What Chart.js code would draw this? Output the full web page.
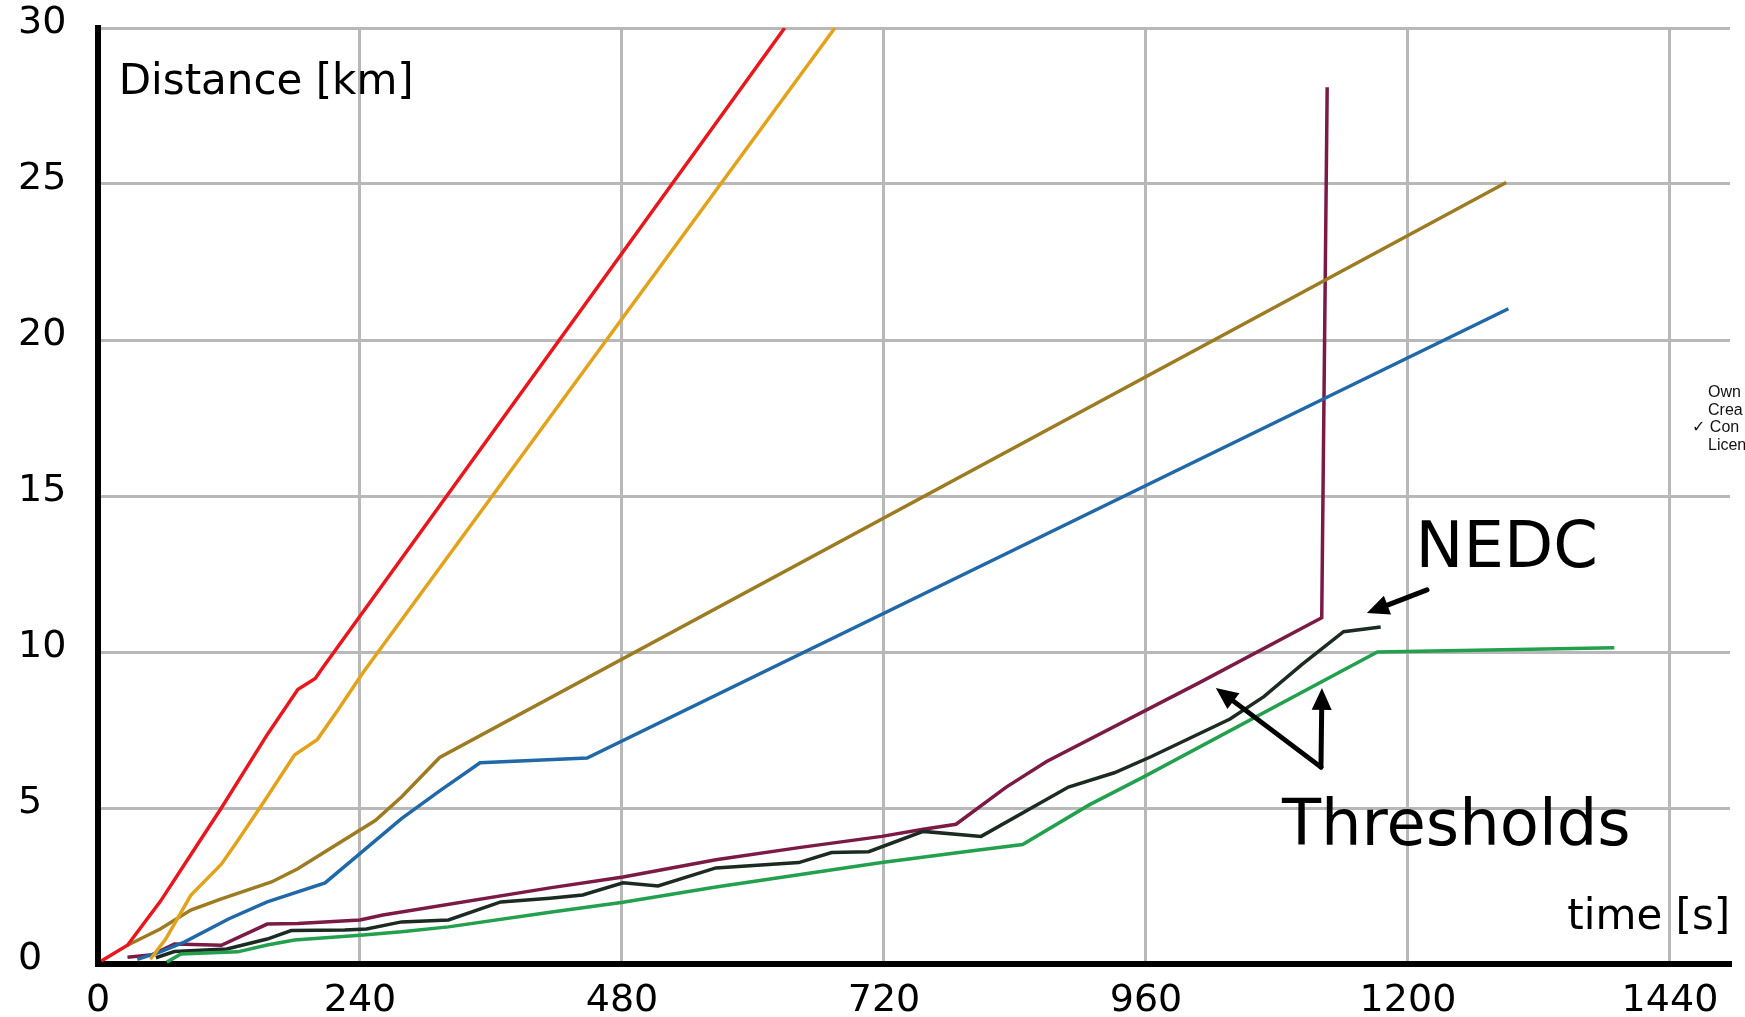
<!DOCTYPE html>
<html>
<head>
<meta charset="utf-8">
<script src="https://cdn.jsdelivr.net/npm/chart.js@4.4.1/dist/chart.umd.min.js"></script>
<style>
    html, body { margin: 0; padding: 0; background: #fff; }
    #wrap { width: 1745px; height: 1017px; }
</style>
</head>
<body>
<div id="wrap"><canvas id="distChart" width="1745" height="1017"></canvas></div>
<script>
// time [s] and distance [km]
const redTime = [3, 27, 57, 85, 113, 155, 183, 199, 206, 629];
const redKm = [0.1, 0.6, 2.0, 3.5, 5.0, 7.35, 8.8, 9.15, 9.5, 30];

const orangeTime = [48, 62, 85, 113, 127, 152, 180, 201, 219, 243, 675];
const orangeKm = [0.15, 0.8, 2.2, 3.2, 3.9, 5.2, 6.7, 7.2, 8.1, 9.35, 30];

const brownTime = [27, 57, 85, 113, 159, 183, 208, 254, 278, 313, 1290];
const brownKm = [0.6, 1.12, 1.73, 2.09, 2.63, 3.05, 3.6, 4.6, 5.35, 6.62, 25.05];

const blueTime = [36, 57, 79, 120, 155, 208, 244, 278, 313, 350, 448, 1292];
const blueKm = [0.15, 0.39, 0.7, 1.45, 1.99, 2.6, 3.66, 4.66, 5.55, 6.45, 6.6, 21.0];

const maroonTime = [27, 50, 70, 113, 155, 183, 240, 261, 414, 481, 566, 642, 718, 756, 786, 832, 869, 1009, 1121, 1126];
const maroonKm = [0.22, 0.3, 0.64, 0.6, 1.28, 1.3, 1.41, 1.57, 2.44, 2.79, 3.34, 3.73, 4.09, 4.32, 4.48, 5.67, 6.49, 9.02, 11.1, 28.1];

// NEDC
const nedcTime = [53, 70, 118, 155, 177, 226, 246, 278, 321, 369, 414, 444, 481, 513, 566, 642, 672, 706, 756, 809, 889, 931, 965, 1037, 1068, 1103, 1141, 1175];
const nedcKm = [0.2, 0.4, 0.48, 0.8, 1.07, 1.09, 1.12, 1.35, 1.41, 1.99, 2.11, 2.21, 2.6, 2.5, 3.08, 3.25, 3.57, 3.6, 4.25, 4.09, 5.67, 6.13, 6.65, 7.85, 8.57, 9.6, 10.65, 10.8];

const greenTime = [63, 76, 128, 155, 180, 243, 278, 321, 414, 481, 566, 718, 794, 847, 908, 957, 1172, 1389];
const greenKm = [0.06, 0.32, 0.39, 0.61, 0.77, 0.93, 1.03, 1.19, 1.66, 1.98, 2.47, 3.25, 3.6, 3.83, 5.1, 5.98, 10.0, 10.14];

const xTicks = [0, 240, 480, 720, 960, 1200, 1440];
const yTicks = [0, 5, 10, 15, 20, 25, 30];

const series = [
    { t: redTime, km: redKm, color: "#e8171d" },
    { t: orangeTime, km: orangeKm, color: "#e2a21b" },
    { t: brownTime, km: brownKm, color: "#9c7b22" },
    { t: blueTime, km: blueKm, color: "#2168a8" },
    { t: greenTime, km: greenKm, color: "#23a04e" },
    { t: nedcTime, km: nedcKm, color: "#1c2b22" },
    { t: maroonTime, km: maroonKm, color: "#7b1a45" }
];

function arrow(ctx, x0, y0, x1, y1) {
    const a = Math.atan2(y1 - y0, x1 - x0);
    const head = 22, half = 10;
    const bx = x1 - head * Math.cos(a), by = y1 - head * Math.sin(a);
    ctx.beginPath();
    ctx.moveTo(x0, y0);
    ctx.lineTo(bx, by);
    ctx.stroke();
    ctx.beginPath();
    ctx.moveTo(x1, y1);
    ctx.lineTo(bx + half * Math.sin(a), by - half * Math.cos(a));
    ctx.lineTo(bx - half * Math.sin(a), by + half * Math.cos(a));
    ctx.closePath();
    ctx.fill();
}

const annotations = {
    id: "annotations",
    afterDatasetsDraw(chart) {
        const { ctx, scales: { x, y } } = chart;
        const px = t => x.getPixelForValue(t);
        const py = v => y.getPixelForValue(v);
        ctx.save();
        ctx.fillStyle = "#000";
        ctx.strokeStyle = "#000";
        ctx.textBaseline = "alphabetic";
        ctx.textAlign = "left";

        ctx.font = "42px 'DejaVu Sans'";
        ctx.fillText("Distance [km]", px(19), py(27.9));
        ctx.fillText("time [s]", px(1346), py(1.13));

        ctx.font = "64px 'DejaVu Sans'";
        ctx.fillText("NEDC", px(1207), py(12.72));
        ctx.fillText("Thresholds", px(1084.5), py(3.81));

        ctx.lineWidth = 5;
        ctx.lineCap = "round";
        arrow(ctx, px(1217.4), py(11.99), px(1162.4), py(11.25));
        arrow(ctx, px(1120.3), py(6.31), px(1024), py(8.85));
        arrow(ctx, px(1120.3), py(6.31), px(1121.2), py(8.85));

        // small note cut off at the right edge
        ctx.font = "16px 'Liberation Sans', 'DejaVu Sans'";
        ctx.textBaseline = "middle";
        ctx.fillStyle = "#111";
        const nx = chart.width - 37;
        ctx.fillText("Own", nx, 393);
        ctx.fillText("Crea", nx, 410.5);
        ctx.fillText("\u2713 Con", nx - 16, 428);
        ctx.fillText("Licen", nx, 445.5);
        ctx.restore();
    }
};

new Chart(document.getElementById("distChart"), {
    type: "line",
    data: {
        datasets: series.map(s => ({
            data: s.t.map((t, i) => ({ x: t, y: s.km[i] })),
            borderColor: s.color,
            borderWidth: 3.5,
            pointRadius: 0,
            tension: 0,
            fill: false
        }))
    },
    options: {
        responsive: false,
        animation: false,
        devicePixelRatio: 1,
        layout: { padding: { left: 18, right: 15, top: 28, bottom: 0 } },
        plugins: { legend: { display: false }, tooltip: { enabled: false } },
        scales: {
            x: {
                type: "linear",
                min: 0,
                max: 1495,
                afterBuildTicks: s => { s.ticks = xTicks.map(v => ({ value: v })); },
                afterFit: s => { s.height = 53; },
                grid: { color: "#b8b8b8", lineWidth: 3, drawTicks: false },
                border: { color: "#000", width: 6 },
                ticks: {
                    font: { family: "DejaVu Sans", size: 38 },
                    color: "#000",
                    padding: 14,
                    maxRotation: 0,
                    autoSkip: false,
                    callback: v => String(v)
                }
            },
            y: {
                type: "linear",
                min: 0,
                max: 30,
                afterBuildTicks: s => { s.ticks = yTicks.map(v => ({ value: v })); },
                afterFit: s => { s.width = 80; },
                grid: { color: "#b8b8b8", lineWidth: 3, drawTicks: false },
                border: { color: "#000", width: 6 },
                ticks: {
                    font: { family: "DejaVu Sans", size: 38 },
                    color: "#000",
                    crossAlign: "far",
                    labelOffset: -5,
                    padding: 0,
                    callback: v => String(v)
                }
            }
        }
    },
    plugins: [annotations]
});
</script>
</body>
</html>
